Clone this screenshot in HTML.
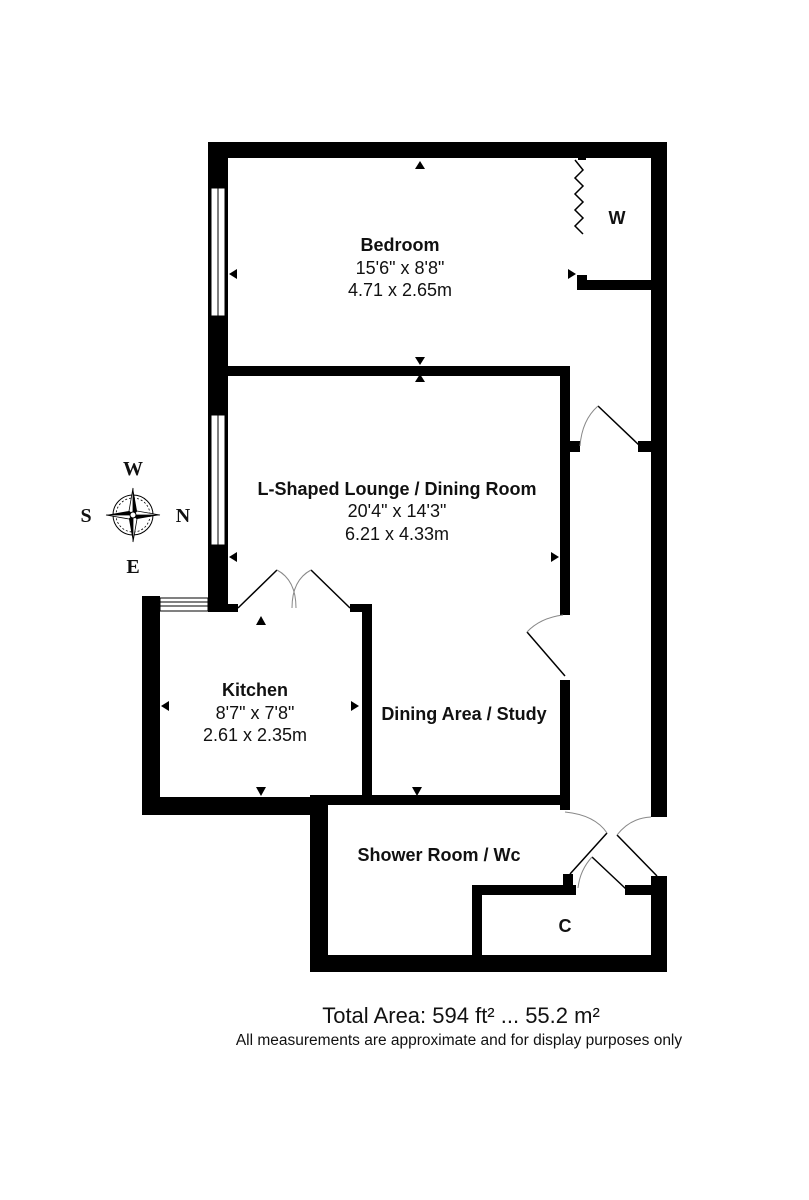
<!DOCTYPE html>
<html><head><style>
body{margin:0;background:#fff;}
svg{display:block}
text{font-family:"Liberation Sans",Arial,sans-serif;fill:#111}
</style></head><body>
<svg width="809" height="1200" viewBox="0 0 809 1200">
<g fill="#000">
<rect x="208" y="142" width="459" height="16"/>
<rect x="651" y="142" width="16" height="675"/>
<rect x="651" y="876" width="16" height="96"/>
<rect x="208" y="142" width="20" height="470"/>
<rect x="228" y="366" width="342" height="10"/>
<rect x="560" y="366" width="10" height="86"/>
<rect x="570" y="441" width="10" height="11"/>
<rect x="638" y="441" width="13" height="11"/>
<rect x="560" y="452" width="10" height="163"/>
<rect x="560" y="680" width="10" height="130"/>
<rect x="577" y="280" width="74" height="10"/>
<rect x="577" y="275" width="10" height="15"/>
<rect x="578" y="156" width="8" height="4"/>
<rect x="142" y="596" width="18" height="219"/>
<rect x="142" y="797" width="186" height="18"/>
<rect x="208" y="596" width="20" height="16"/>
<rect x="208" y="604" width="30" height="8"/>
<rect x="362" y="604" width="10" height="193"/>
<rect x="350" y="604" width="22" height="8"/>
<rect x="310" y="795" width="260" height="10"/>
<rect x="310" y="805" width="18" height="167"/>
<rect x="310" y="955" width="357" height="17"/>
<rect x="472" y="885" width="104" height="10"/>
<rect x="472" y="885" width="10" height="70"/>
<rect x="563" y="874" width="10" height="14"/>
<rect x="625" y="885" width="30" height="10"/>
</g>
<g fill="#fff" stroke="#000" stroke-width="1">
<rect x="211" y="188" width="14" height="128"/>
<rect x="211" y="415" width="14" height="130"/>
<rect x="160" y="598" width="48" height="13"/>
</g>
<line x1="218" y1="188" x2="218" y2="316" stroke="#000" stroke-width="1"/>
<line x1="218" y1="415" x2="218" y2="545" stroke="#000" stroke-width="1"/>
<line x1="160" y1="602" x2="208" y2="602" stroke="#000"/>
<line x1="160" y1="606" x2="208" y2="606" stroke="#000"/>
<g fill="none" stroke="#000" stroke-width="1.5">
<polyline points="575,160 583,170 575,178 583,186 575,194 583,202 575,210 583,218 575,226 583,234"/>
<line x1="238" y1="608" x2="277" y2="570"/>
<line x1="350" y1="608" x2="311" y2="570"/>
<line x1="598" y1="406" x2="640" y2="446"/>
<line x1="527" y1="632" x2="565" y2="676"/>
<line x1="570" y1="874" x2="607" y2="833"/>
<line x1="617" y1="835" x2="657" y2="876"/>
<line x1="592" y1="857" x2="626" y2="889"/>
</g>
<g fill="none" stroke="#888" stroke-width="1">
<path d="M277,570 Q296,580 296,608"/>
<path d="M311,570 Q292,580 292,608"/>
<path d="M598,406 Q582,420 580,446"/>
<path d="M527,632 Q540,618 563,615"/>
<path d="M565,812 Q595,815 607,833"/>
<path d="M617,835 Q630,818 651,817"/>
<path d="M592,857 Q580,870 578,888"/>
</g>
<g fill="#000">
<polygon points="415,169 420,161 425,169"/>
<polygon points="415,357 420,365 425,357"/>
<polygon points="415,382 420,374 425,382"/>
<polygon points="237,269 229,274 237,279"/>
<polygon points="568,269 576,274 568,279"/>
<polygon points="237,552 229,557 237,562"/>
<polygon points="551,552 559,557 551,562"/>
<polygon points="256,625 261,616 266,625"/>
<polygon points="169,701 161,706 169,711"/>
<polygon points="351,701 359,706 351,711"/>
<polygon points="256,787 261,796 266,787"/>
<polygon points="412,787 417,796 422,787"/>
</g>
<g text-anchor="middle" font-size="18">
<text x="400" y="251" font-weight="bold">Bedroom</text>
<text x="400" y="274">15'6" x 8'8"</text>
<text x="400" y="296">4.71 x 2.65m</text>
<text x="397" y="495" font-weight="bold">L-Shaped Lounge / Dining Room</text>
<text x="397" y="517">20'4" x 14'3"</text>
<text x="397" y="540">6.21 x 4.33m</text>
<text x="255" y="696" font-weight="bold">Kitchen</text>
<text x="255" y="719">8'7" x 7'8"</text>
<text x="255" y="741">2.61 x 2.35m</text>
<text x="464" y="720" font-weight="bold">Dining Area / Study</text>
<text x="439" y="861" font-weight="bold">Shower Room / Wc</text>
<text x="565" y="932" font-weight="bold">C</text>
<text x="617" y="224" font-weight="bold">W</text>
<text x="461" y="1023" font-size="22">Total Area: 594 ft² ... 55.2 m²</text>
<text x="459" y="1045" font-size="15.5">All measurements are approximate and for display purposes only</text>
</g>
<g transform="translate(133,515)">
<circle r="20" fill="none" stroke="#000" stroke-width="1"/>
<circle r="17" fill="none" stroke="#000" stroke-width="0.8" stroke-dasharray="2,2"/>
<polygon points="0,-27 4,-4 0,0" fill="#000"/>
<polygon points="0,-27 -4,-4 0,0" fill="#fff" stroke="#000" stroke-width="0.8"/>
<polygon points="0,27 -4,4 0,0" fill="#000"/>
<polygon points="0,27 4,4 0,0" fill="#fff" stroke="#000" stroke-width="0.8"/>
<polygon points="27,0 4,4 0,0" fill="#000"/>
<polygon points="27,0 4,-4 0,0" fill="#fff" stroke="#000" stroke-width="0.8"/>
<polygon points="-27,0 -4,-4 0,0" fill="#000"/>
<polygon points="-27,0 -4,4 0,0" fill="#fff" stroke="#000" stroke-width="0.8"/>
<circle r="3" fill="#fff" stroke="#000"/>
<g font-weight="bold" font-size="20" text-anchor="middle">
<text x="0" y="-40" style="font-family:'Liberation Serif',serif">W</text>
<text x="0" y="58" style="font-family:'Liberation Serif',serif">E</text>
<text x="-47" y="7" style="font-family:'Liberation Serif',serif">S</text>
<text x="50" y="7" style="font-family:'Liberation Serif',serif">N</text>
</g>
</g>
</svg>
</body></html>
